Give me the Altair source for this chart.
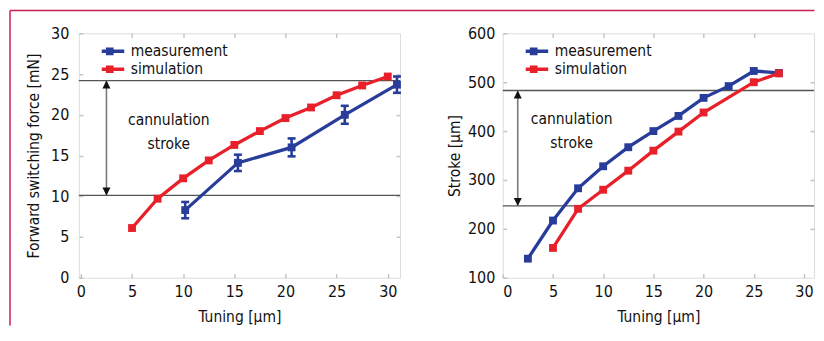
import altair as alt
import pandas as pd

FONT = "DejaVu Sans Condensed, Liberation Sans Narrow, sans-serif"
FS_TEXT = 15.5
FS_TICK = 16
BLUE = "#283c9a"
RED = "#e8202a"
FRAME = "#c9204f"
BORDER = "#c4c4c4"

series_names = ["measurement", "simulation"]
label_lines = ["cannulation", "stroke"]
x_ticks = [0, 5, 10, 15, 20, 25, 30]
x_inner_ticks = [5, 10, 15, 20, 25]

# ---- Left panel: forward switching force [mN]
force_sim_x = [5, 7.5, 10, 12.5, 15, 17.5, 20, 22.5, 25, 27.5, 30]
force_sim_y = [6.1, 9.7, 12.2, 14.4, 16.3, 18.0, 19.6, 20.9, 22.4, 23.6, 24.7]
force_meas_x = [10.2, 15.35, 20.6, 25.8, 30.9]
force_meas_y = [8.3, 14.1, 16.0, 20.0, 23.7]
force_meas_err = [1.0, 1.0, 1.1, 1.1, 1.0]
force_ref_lines = [24.2, 10.1]
force_arrow_x = [2.5]
force_label_x = [8.6, 8.6]
force_label_y = [19.35, 16.4]
force_ticks = [0, 5, 10, 15, 20, 25, 30]
force_inner_ticks = [5, 10, 15, 20, 25]

# ---- Right panel: stroke [µm]
stroke_meas_x = [2.5, 5, 7.5, 10, 12.5, 15, 17.5, 20, 22.5, 25, 27.5]
stroke_meas_y = [139, 217, 283, 328, 367, 400, 431, 468, 492, 523, 519]
stroke_sim_x = [5, 7.5, 10, 12.5, 15, 17.5, 20, 25, 27.5]
stroke_sim_y = [161, 241, 280, 319, 360, 399, 438, 500, 518]
stroke_ref_lines = [483, 247]
stroke_arrow_x = [1.49]
stroke_label_x = [6.86, 6.86]
stroke_label_y = [424, 374.6]
stroke_ticks = [100, 200, 300, 400, 500, 600]
stroke_inner_ticks = [200, 300, 400, 500]

LEGEND_PATH = "M-2.42,0H2.42M-0.35,-0.35H0.35V0.35H-0.35ZM-0.12,-0.12H0.12V0.12H-0.12Z"
UP_PATH = "M0,-1L1,1L-1,1Z"
DOWN_PATH = "M0,1L1,-1L-1,-1Z"

W1, W2, H = 322, 312, 245
SPACING = 103


def panel(meas_x, meas_y, sim_x, sim_y, err, ref_lines, arrow_x, lab_x, lab_y,
          xdom, ydom, yticks, yinner, ytitle, width, height,
          ylabel_pad, ytitle_pad, with_frame):
    xs = alt.Scale(domain=xdom, nice=False, zero=False)
    ys = alt.Scale(domain=ydom, nice=False, zero=False)

    df = pd.DataFrame({
        "x": list(meas_x) + list(sim_x),
        "y": list(meas_y) + list(sim_y),
        "series": [series_names[0]] * len(meas_x) + [series_names[1]] * len(sim_x),
    })

    base_axis = dict(labelFont=FONT, titleFont=FONT, labelFontSize=FS_TICK,
                     titleFontSize=FS_TEXT, labelColor="#111", titleColor="#111",
                     titleFontWeight="normal", domain=False, grid=False,
                     tickColor=BORDER, tickWidth=1.5, tickSize=4, offset=-4)

    x_axis = alt.Axis(orient="bottom", values=x_ticks, labelPadding=6,
                      title="Tuning [µm]", titlePadding=10, **base_axis)
    y_axis = alt.Axis(orient="left", values=yticks, labelPadding=ylabel_pad,
                      title=ytitle, titlePadding=ytitle_pad, **base_axis)

    color = alt.Color("series:N",
                      scale=alt.Scale(domain=series_names, range=[BLUE, RED]),
                      legend=alt.Legend(orient="none", legendX=23, legendY=9, title=None,
                                        symbolType=LEGEND_PATH, symbolSize=144,
                                        symbolStrokeWidth=3.5, labelFont=FONT,
                                        labelFontSize=FS_TEXT, labelColor="#111",
                                        labelOffset=13, rowPadding=0, padding=0,
                                        clipHeight=18))

    lines = alt.Chart(df).mark_line(strokeWidth=3.3).encode(
        x=alt.X("x:Q", scale=xs, axis=x_axis),
        y=alt.Y("y:Q", scale=ys, axis=y_axis),
        color=color,
    )
    squares = alt.Chart(df).mark_square(size=62, opacity=1).encode(
        x=alt.X("x:Q", scale=xs, axis=None),
        y=alt.Y("y:Q", scale=ys, axis=None),
        color=alt.Color("series:N", scale=alt.Scale(domain=series_names, range=[BLUE, RED]),
                        legend=None),
    )

    ref_df = pd.DataFrame({"y": ref_lines})
    refs = alt.Chart(ref_df).mark_rule(color="#555", strokeWidth=1.3).encode(
        y=alt.Y("y:Q", scale=ys, axis=None))

    arrow_df = pd.DataFrame({"x": arrow_x, "hi": [ref_lines[0]], "lo": [ref_lines[1]]})
    arrow = alt.Chart(arrow_df).mark_rule(color="#7a7a7a", strokeWidth=1.6).encode(
        x=alt.X("x:Q", scale=xs, axis=None),
        y=alt.Y("lo:Q", scale=ys, axis=None), y2="hi:Q")
    head_up = alt.Chart(arrow_df).mark_point(shape=UP_PATH, filled=True, size=64,
                                             color="#111", opacity=1, yOffset=4).encode(
        x=alt.X("x:Q", scale=xs, axis=None), y=alt.Y("hi:Q", scale=ys, axis=None))
    head_dn = alt.Chart(arrow_df).mark_point(shape=DOWN_PATH, filled=True, size=64,
                                             color="#111", opacity=1, yOffset=-4).encode(
        x=alt.X("x:Q", scale=xs, axis=None), y=alt.Y("lo:Q", scale=ys, axis=None))

    text_df = pd.DataFrame({"x": lab_x, "y": lab_y, "t": label_lines})
    texts = alt.Chart(text_df).mark_text(font=FONT, fontSize=FS_TEXT, color="#111",
                                         align="center", baseline="middle").encode(
        x=alt.X("x:Q", scale=xs, axis=None), y=alt.Y("y:Q", scale=ys, axis=None), text="t:N")

    tick_axis = dict(labels=False, domain=False, grid=False, tickColor=BORDER,
                     tickWidth=1.5, tickSize=4, offset=-4, title=None)
    ticks = alt.Chart(df).mark_point(opacity=0).encode(
        x=alt.X("x:Q", scale=xs, axis=alt.Axis(orient="top", values=x_inner_ticks, **tick_axis)),
        y=alt.Y("y:Q", scale=ys, axis=alt.Axis(orient="right", values=yinner, **tick_axis)),
    )

    layers = [refs, arrow, head_up, head_dn, texts]

    if err is not None:
        err_df = pd.DataFrame({
            "x": meas_x,
            "lo": [v - e for v, e in zip(meas_y, err)],
            "hi": [v + e for v, e in zip(meas_y, err)],
        })
        bars = alt.Chart(err_df).mark_rule(color=BLUE, strokeWidth=2.6).encode(
            x=alt.X("x:Q", scale=xs, axis=None),
            y=alt.Y("lo:Q", scale=ys, axis=None), y2="hi:Q")
        cap_lo = alt.Chart(err_df).mark_point(shape="stroke", size=64, strokeWidth=2.6,
                                              color=BLUE, opacity=1).encode(
            x=alt.X("x:Q", scale=xs, axis=None), y=alt.Y("lo:Q", scale=ys, axis=None))
        cap_hi = alt.Chart(err_df).mark_point(shape="stroke", size=64, strokeWidth=2.6,
                                              color=BLUE, opacity=1).encode(
            x=alt.X("x:Q", scale=xs, axis=None), y=alt.Y("hi:Q", scale=ys, axis=None))
        layers += [lines, bars, cap_lo, cap_hi, squares]
    else:
        layers += [lines, squares]

    layers.append(ticks)
    if with_frame:
        frame_df = pd.DataFrame({"k": [0]})
        top_frame = alt.Chart(frame_df).mark_rule(color=FRAME, strokeWidth=1.5).encode(
            x=alt.value(-69), x2=alt.value(W1 + SPACING + W2 + 0.5), y=alt.value(-23))
        left_line = alt.Chart(frame_df).mark_rule(color=FRAME, strokeWidth=1.5).encode(
            x=alt.value(-69), y=alt.value(-23), y2=alt.value(293))
        layers += [top_frame, left_line]

    return alt.layer(*layers).resolve_axis(x="independent", y="independent").properties(
        width=width, height=height)


left = panel(force_meas_x, force_meas_y, force_sim_x, force_sim_y, force_meas_err,
             force_ref_lines, force_arrow_x, force_label_x, force_label_y,
             [-0.2, 31.2], [0, 30], force_ticks, force_inner_ticks,
             "Forward switching force [mN]", W1, H, 10, 9, True)

right = panel(stroke_meas_x, stroke_meas_y, stroke_sim_x, stroke_sim_y, None,
              stroke_ref_lines, stroke_arrow_x, stroke_label_x, stroke_label_y,
              [0, 31], [100, 600], stroke_ticks, stroke_inner_ticks,
              "Stroke [µm]", W2, H, 8, 5, False)

chart = alt.hconcat(left, right, spacing=SPACING, bounds="flush").resolve_scale(
    color="independent").resolve_legend(color="independent").properties(
    padding=0).configure_view(stroke=BORDER, strokeWidth=1.5).configure(background="white")

chart.save("out.html", embed_options={"renderer": "svg", "actions": False})
